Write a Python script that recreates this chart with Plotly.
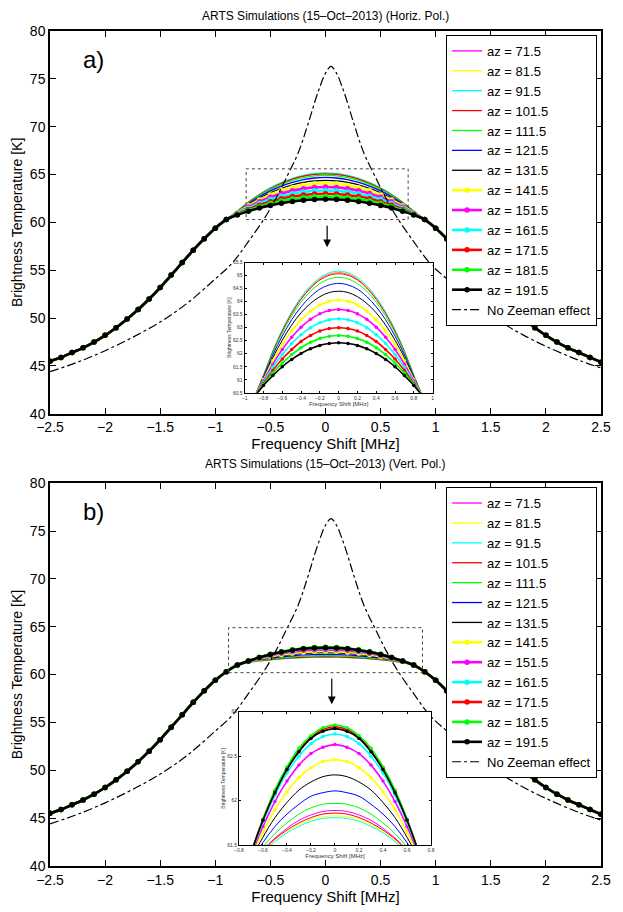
import plotly.graph_objects as go

# ---------------- data ----------------
freq_mhz = [-2.5, -2.4, -2.3, -2.2, -2.1, -2.0, -1.9, -1.8, -1.7, -1.6, -1.5, -1.4, -1.3,
            -1.2, -1.1, -1.0, -0.9,
            -0.8, -0.7, -0.6, -0.5, -0.4, -0.3, -0.2, -0.1, 0.0, 0.1, 0.2, 0.3, 0.4, 0.5,
            0.6, 0.7, 0.8,
            0.9, 1.0, 1.1, 1.2, 1.3, 1.4, 1.5, 1.6, 1.7, 1.8, 1.9, 2.0, 2.1, 2.2, 2.3,
            2.4, 2.5]

# wings (|f| >= 0.9 MHz), where all azimuth curves coincide
wing_left = [45.5, 45.9, 46.4, 46.9, 47.5, 48.2, 49.0, 49.9, 50.9, 52.0, 53.2, 54.5, 55.8,
             57.1, 58.3, 59.4, 60.3]
wing_right = [60.3, 59.4, 58.3, 57.1, 55.8, 54.5, 53.2, 52.0, 50.9, 49.9, 49.0, 48.2, 47.5,
              46.9, 46.4, 45.9, 45.4]

az_labels = ["az = 71.5", "az = 81.5", "az = 91.5", "az = 101.5", "az = 111.5",
             "az = 121.5", "az = 131.5", "az = 141.5", "az = 151.5", "az = 161.5",
             "az = 171.5", "az = 181.5", "az = 191.5"]

# line centre (-0.8 ... 0.8 MHz), horizontal polarisation
horiz_center = [
    [61.17, 62.09, 62.90, 63.58, 64.13, 64.56, 64.87, 65.06, 65.12, 65.06, 64.87, 64.56, 64.13, 63.58, 62.90, 62.09, 61.17],
    [61.17, 62.10, 62.91, 63.59, 64.15, 64.58, 64.89, 65.08, 65.14, 65.08, 64.89, 64.58, 64.15, 63.59, 62.91, 62.10, 61.17],
    [61.18, 62.11, 62.92, 63.61, 64.17, 64.61, 64.92, 65.11, 65.17, 65.11, 64.92, 64.61, 64.17, 63.61, 62.92, 62.11, 61.18],
    [61.16, 62.08, 62.87, 63.54, 64.09, 64.52, 64.83, 65.01, 65.07, 65.01, 64.83, 64.52, 64.09, 63.54, 62.87, 62.08, 61.16],
    [61.14, 62.03, 62.80, 63.45, 63.98, 64.40, 64.69, 64.87, 64.93, 64.87, 64.69, 64.40, 63.98, 63.45, 62.80, 62.03, 61.14],
    [61.11, 61.95, 62.68, 63.30, 63.80, 64.19, 64.48, 64.64, 64.70, 64.64, 64.48, 64.19, 63.80, 63.30, 62.68, 61.95, 61.11],
    [61.06, 61.85, 62.52, 63.10, 63.57, 63.93, 64.19, 64.35, 64.40, 64.35, 64.19, 63.93, 63.57, 63.10, 62.52, 61.85, 61.06],
    [61.01, 61.73, 62.35, 62.87, 63.30, 63.63, 63.87, 64.01, 64.06, 64.01, 63.87, 63.63, 63.30, 62.87, 62.35, 61.73, 61.01],
    [60.96, 61.60, 62.16, 62.63, 63.02, 63.32, 63.53, 63.66, 63.70, 63.66, 63.53, 63.32, 63.02, 62.63, 62.16, 61.60, 60.96],
    [60.91, 61.48, 61.97, 62.39, 62.73, 63.00, 63.19, 63.30, 63.34, 63.30, 63.19, 63.00, 62.73, 62.39, 61.97, 61.48, 60.91],
    [60.86, 61.36, 61.80, 62.16, 62.47, 62.70, 62.87, 62.97, 63.00, 62.97, 62.87, 62.70, 62.47, 62.16, 61.80, 61.36, 60.86],
    [60.82, 61.26, 61.64, 61.97, 62.23, 62.44, 62.58, 62.67, 62.70, 62.67, 62.58, 62.44, 62.23, 61.97, 61.64, 61.26, 60.82],
    [60.78, 61.16, 61.50, 61.78, 62.01, 62.19, 62.32, 62.39, 62.42, 62.39, 62.32, 62.19, 62.01, 61.78, 61.50, 61.16, 60.78],
]

# line centre (-0.8 ... 0.8 MHz), vertical polarisation
vert_center = [
    [61.11, 61.29, 61.45, 61.58, 61.69, 61.78, 61.84, 61.88, 61.89, 61.88, 61.84, 61.78, 61.69, 61.58, 61.45, 61.29, 61.11],
    [61.11, 61.28, 61.43, 61.55, 61.65, 61.73, 61.79, 61.82, 61.83, 61.82, 61.79, 61.73, 61.65, 61.55, 61.43, 61.28, 61.11],
    [61.12, 61.28, 61.42, 61.54, 61.64, 61.71, 61.77, 61.80, 61.81, 61.80, 61.77, 61.71, 61.64, 61.54, 61.42, 61.28, 61.12],
    [61.11, 61.29, 61.44, 61.57, 61.67, 61.75, 61.81, 61.85, 61.86, 61.85, 61.81, 61.75, 61.67, 61.57, 61.44, 61.29, 61.11],
    [61.09, 61.30, 61.48, 61.63, 61.75, 61.85, 61.92, 61.96, 61.97, 61.96, 61.92, 61.85, 61.75, 61.63, 61.48, 61.30, 61.09],
    [61.07, 61.32, 61.53, 61.71, 61.85, 61.96, 62.05, 62.09, 62.11, 62.09, 62.05, 61.96, 61.85, 61.71, 61.53, 61.32, 61.07],
    [61.05, 61.34, 61.59, 61.81, 61.98, 62.12, 62.21, 62.27, 62.29, 62.27, 62.21, 62.12, 61.98, 61.81, 61.59, 61.34, 61.05],
    [61.03, 61.36, 61.65, 61.90, 62.10, 62.26, 62.37, 62.44, 62.46, 62.44, 62.37, 62.26, 62.10, 61.90, 61.65, 61.36, 61.03],
    [61.00, 61.38, 61.71, 61.99, 62.22, 62.40, 62.53, 62.60, 62.63, 62.60, 62.53, 62.40, 62.22, 61.99, 61.71, 61.38, 61.00],
    [60.99, 61.40, 61.76, 62.06, 62.31, 62.50, 62.64, 62.72, 62.75, 62.72, 62.64, 62.50, 62.31, 62.06, 61.76, 61.40, 60.99],
    [60.98, 61.41, 61.79, 62.11, 62.37, 62.57, 62.71, 62.80, 62.83, 62.80, 62.71, 62.57, 62.37, 62.11, 61.79, 61.41, 60.98],
    [60.97, 61.41, 61.79, 62.12, 62.38, 62.59, 62.73, 62.82, 62.85, 62.82, 62.73, 62.59, 62.38, 62.12, 61.79, 61.41, 60.97],
    [60.99, 61.41, 61.78, 62.09, 62.35, 62.55, 62.70, 62.78, 62.81, 62.78, 62.70, 62.55, 62.35, 62.09, 61.78, 61.41, 60.99],
]

# "No Zeeman effect" reference line
nz_freq = [-2.5, -2.25, -2.0, -1.75, -1.5, -1.25, -1.0, -0.85, -0.7, -0.55, -0.45, -0.35,
           -0.25, -0.15, -0.1, -0.05, 0.0, 0.05, 0.1, 0.15, 0.2, 0.25, 0.35, 0.45, 0.55,
           0.65, 0.8, 0.95, 1.1, 1.3, 1.55, 1.8, 2.05, 2.3, 2.5]
nz_tb = [44.4, 45.4, 46.6, 48.0, 49.6, 51.6, 54.1, 55.7, 58.0, 60.5, 62.5, 64.8,
         67.2, 70.6, 72.5, 74.2, 75.6, 76.3, 75.6, 74.2, 72.5, 70.6, 67.2, 64.8, 62.5,
         60.5, 58.0, 55.7, 54.1, 52.0, 49.9, 48.2, 46.8, 45.6, 44.8]

x_ticks = [-2.5, -2.0, -1.5, -1.0, -0.5, 0.0, 0.5, 1.0, 1.5, 2.0, 2.5]
y_ticks = [40, 45, 50, 55, 60, 65, 70, 75, 80]
inset_top_xticks = [-1.0, -0.8, -0.6, -0.4, -0.2, 0.0, 0.2, 0.4, 0.6, 0.8, 1.0]
inset_top_yticks = [60.5, 61, 61.5, 62, 62.5, 63, 63.5, 64, 64.5, 65, 65.5]
inset_bot_xticks = [-0.8, -0.6, -0.4, -0.2, 0.0, 0.2, 0.4, 0.6, 0.8]
inset_bot_yticks = [61.5, 62, 62.5, 63]

# ---------------- styles ----------------
line_colors = ["#FF00FF", "#FFFF00", "#00FFFF", "#FF0000", "#00FF00", "#0000FF", "#000000",
               "#FFFF00", "#FF00FF", "#00FFFF", "#FF0000", "#00FF00", "#000000"]
with_marker = [False] * 7 + [True] * 6
FONT = "Liberation Sans, Arial, Helvetica, sans-serif"

fig = go.Figure()

panels = [
    (horiz_center, "x", "y", "x3", "y3", "legend"),
    (vert_center, "x2", "y2", "x4", "y4", "legend2"),
]
for center, xa, ya, xi, yi, leg in panels:
    for i in range(len(az_labels)):
        tb = wing_left + center[i] + wing_right
        mk = with_marker[i]
        fig.add_trace(go.Scatter(
            x=freq_mhz, y=tb, name=az_labels[i], legend=leg,
            xaxis=xa, yaxis=ya,
            mode="lines+markers" if mk else "lines",
            line=dict(color=line_colors[i], width=2.6 if mk else 1.3, shape="spline"),
            marker=dict(size=5.5, color=line_colors[i]),
        ))
        fig.add_trace(go.Scatter(
            x=freq_mhz, y=tb, showlegend=False, xaxis=xi, yaxis=yi,
            mode="lines+markers" if mk else "lines",
            line=dict(color=line_colors[i], width=1.6 if mk else 1, shape="spline"),
            marker=dict(size=3.5, color=line_colors[i]),
        ))
    fig.add_trace(go.Scatter(
        x=nz_freq, y=nz_tb, name="No Zeeman effect", legend=leg,
        xaxis=xa, yaxis=ya, mode="lines",
        line=dict(color="black", width=1.2, dash="dashdot", shape="spline"),
    ))

main_x = dict(range=[-2.5, 2.5], tickvals=x_ticks, showline=True, linecolor="black",
              linewidth=1.5, mirror="ticks", ticks="inside", ticklen=6, tickcolor="black",
              showgrid=False, zeroline=False, tickfont=dict(size=14),
              title=dict(text="Frequency Shift [MHz]", font=dict(size=15), standoff=2))
main_y = dict(range=[40, 80], tickvals=y_ticks, showline=True, linecolor="black",
              linewidth=1.5, mirror="ticks", ticks="inside", ticklen=6, tickcolor="black",
              showgrid=False, zeroline=False, tickfont=dict(size=14),
              title=dict(text="Brightness Temperature [K]", font=dict(size=14), standoff=4))
inset_x = dict(showline=True, linecolor="black", linewidth=1, mirror="ticks",
               ticks="inside", ticklen=2, tickcolor="black", showgrid=False, zeroline=False,
               tickfont=dict(size=5, color="#333"),
               title=dict(text="Frequency Shift [MHz]", font=dict(size=6, color="#333"), standoff=1))
inset_y = dict(showline=True, linecolor="black", linewidth=1, mirror="ticks",
               ticks="inside", ticklen=2, tickcolor="black", showgrid=False, zeroline=False,
               tickfont=dict(size=5, color="#333"),
               title=dict(text="Brightness Temperature [K]", font=dict(size=5, color="#333"), standoff=1))

legend_style = dict(xanchor="right", x=0.9928, yanchor="top", bordercolor="black",
                    borderwidth=1, bgcolor="white", font=dict(size=13), itemwidth=30,
                    tracegroupgap=0)

fig.update_layout(
    width=623, height=912,
    margin=dict(l=50, r=21, t=31, b=37),
    paper_bgcolor="white", plot_bgcolor="white",
    font=dict(family=FONT, size=14, color="black"),
    showlegend=True,
    legend=dict(legend_style, y=0.9953),
    legend2=dict(legend_style, y=0.4538),
    xaxis=dict(main_x, domain=[0, 1], anchor="y"),
    yaxis=dict(main_y, domain=[0.5415, 1.0], anchor="x"),
    xaxis2=dict(main_x, domain=[0, 1], anchor="y2"),
    yaxis2=dict(main_y, domain=[0.0, 0.4585], anchor="x2"),
    xaxis3=dict(inset_x, domain=[0.3533, 0.6944], anchor="y3", range=[-1, 1],
                tickvals=inset_top_xticks),
    yaxis3=dict(inset_y, domain=[0.5667, 0.7227], anchor="x3", range=[60.5, 65.5],
                tickvals=inset_top_yticks),
    xaxis4=dict(inset_x, domain=[0.3429, 0.6915], anchor="y4", range=[-0.8, 0.8],
                tickvals=inset_bot_xticks),
    yaxis4=dict(inset_y, domain=[0.0249, 0.1848], anchor="x4", range=[61.5, 63],
                tickvals=inset_bot_yticks),
)

# zoom boxes
fig.add_shape(type="rect", xref="x", yref="y", x0=-0.72, x1=0.75, y0=60.3, y1=65.6,
              line=dict(color="#444", width=1, dash="dot"))
fig.add_shape(type="rect", xref="x2", yref="y2", x0=-0.88, x1=0.88, y0=60.2, y1=64.9,
              line=dict(color="#444", width=1, dash="dot"))

# arrows
fig.add_annotation(x=0.015, y=57.4, ax=0.015, ay=59.8, xref="x", yref="y", axref="x",
                   ayref="y", text="", showarrow=True, arrowhead=2, arrowsize=1.3,
                   arrowwidth=1.2, arrowcolor="black")
fig.add_annotation(x=0.057, y=56.9, ax=0.057, ay=59.74, xref="x2", yref="y2", axref="x2",
                   ayref="y2", text="", showarrow=True, arrowhead=2, arrowsize=1.3,
                   arrowwidth=1.2, arrowcolor="black")

# panel titles and labels
fig.add_annotation(x=0.5, y=1.0178, xref="paper", yref="paper", showarrow=False,
                   text="ARTS Simulations (15–Oct–2013) (Horiz. Pol.)",
                   font=dict(size=12), xanchor="center", yanchor="middle")
fig.add_annotation(x=0.5, y=0.4810, xref="paper", yref="paper", showarrow=False,
                   text="ARTS Simulations (15–Oct–2013) (Vert. Pol.)",
                   font=dict(size=12), xanchor="center", yanchor="middle")
fig.add_annotation(x=0.0797, y=0.9656, xref="paper", yref="paper", showarrow=False,
                   text="a)", font=dict(size=24), xanchor="center", yanchor="middle")
fig.add_annotation(x=0.0797, y=0.4242, xref="paper", yref="paper", showarrow=False,
                   text="b)", font=dict(size=24), xanchor="center", yanchor="middle")

fig.write_html("out.html")
